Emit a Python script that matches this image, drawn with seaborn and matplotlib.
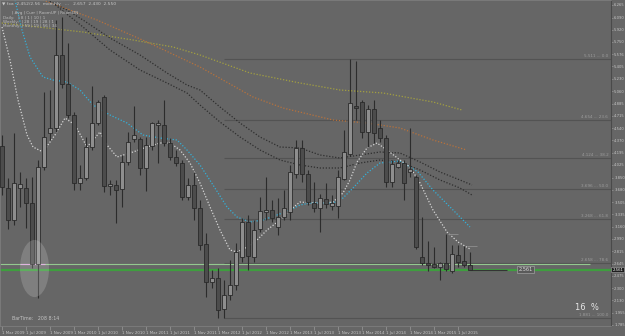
import matplotlib
matplotlib.use("Agg")
import matplotlib.pyplot as plt
import matplotlib.transforms as mtransforms
from matplotlib.patches import Ellipse
import seaborn as sns
import numpy as np
import pandas as pd

# ---------------- data (monthly candles, Mar 2009 .. Sep 2015) ----------------
open_ = [4.291, 3.703, 3.255, 3.703, 3.703, 3.493, 2.639, 3.997, 4.473, 4.543,
         5.565, 5.159, 4.725, 3.773, 3.843, 4.277, 4.613, 4.977, 3.731, 3.745,
         3.689, 4.067, 4.389, 4.389, 3.983, 4.291, 4.585, 4.585, 4.333, 4.137,
         4.053, 3.577, 3.745, 3.423, 2.919, 2.387, 2.443, 2.009, 2.205, 2.345,
         2.737, 3.227, 2.737, 3.129, 3.367, 3.395, 3.157, 3.297, 3.367, 3.899,
         4.263, 3.899, 3.493, 3.423, 3.549, 3.451, 3.451, 3.829, 4.179, 4.837,
         4.907, 4.487, 4.809, 4.543, 4.403, 3.787, 3.997, 4.053, 3.927, 3.857,
         2.737, 2.653, 2.639, 2.597, 2.653, 2.541, 2.765, 2.681, 2.625]
close = [3.717, 3.255, 3.773, 3.759, 3.493, 2.639, 3.997, 4.417, 4.543, 5.565,
         5.159, 4.725, 3.773, 3.843, 4.277, 4.613, 4.907, 3.731, 3.745, 3.675,
         4.067, 4.347, 4.445, 3.983, 4.305, 4.613, 4.613, 4.333, 4.137, 4.053,
         3.577, 3.745, 3.423, 2.905, 2.387, 2.443, 1.995, 2.205, 2.345, 2.807,
         3.227, 2.751, 3.115, 3.381, 3.395, 3.283, 3.297, 3.423, 3.927, 4.263,
         3.899, 3.507, 3.423, 3.563, 3.479, 3.493, 3.857, 4.207, 4.893, 4.823,
         4.487, 4.809, 4.473, 4.403, 3.787, 4.039, 4.053, 3.773, 3.969, 2.877,
         2.653, 2.625, 2.597, 2.653, 2.569, 2.779, 2.667, 2.625, 2.561]
high = [4.445, 3.843, 4.473, 3.927, 3.843, 3.857, 4.100, 5.047, 5.075, 6.055,
        6.097, 5.733, 4.767, 4.025, 4.417, 5.131, 4.935, 5.005, 3.815, 3.815,
        4.165, 4.487, 4.851, 4.417, 4.417, 4.627, 4.655, 4.935, 4.403, 4.235,
        4.095, 3.843, 3.927, 3.535, 3.073, 2.555, 2.583, 2.415, 2.695, 2.933,
        3.283, 3.325, 3.255, 3.577, 3.857, 3.535, 3.563, 3.675, 4.025, 4.375,
        4.375, 3.955, 3.787, 3.619, 3.773, 3.605, 3.955, 4.515, 5.509, 5.481,
        4.935, 4.865, 4.935, 4.655, 4.445, 4.095, 4.095, 4.095, 4.543, 3.885,
        3.297, 2.961, 2.877, 2.667, 3.059, 2.905, 2.905, 2.891, 2.807]
low = [3.605, 3.129, 3.185, 3.437, 3.143, 2.583, 2.163, 3.955, 4.375, 4.487,
       5.103, 4.683, 3.675, 3.675, 3.815, 4.235, 4.585, 3.647, 3.605, 3.213,
       3.437, 4.025, 4.347, 3.885, 3.661, 4.235, 4.053, 4.291, 4.095, 4.011,
       3.535, 3.535, 3.255, 2.835, 2.177, 2.303, 1.883, 1.883, 2.135, 2.275,
       2.667, 2.555, 2.667, 3.087, 3.255, 3.227, 3.045, 3.255, 3.255, 3.843,
       3.787, 3.465, 3.367, 3.087, 3.423, 3.395, 3.283, 3.815, 4.151, 4.655,
       4.403, 4.277, 4.333, 4.347, 3.717, 3.717, 3.983, 3.535, 3.857, 2.849,
       2.625, 2.541, 2.583, 2.415, 2.541, 2.513, 2.597, 2.597, 2.555]

date_pos = [0, 4, 8, 12, 16, 20, 24, 28, 32, 36, 40, 44, 48, 52, 56, 60, 64, 68, 72, 76]
date_labels = ["1 Mar 2009", "1 Jul 2009", "1 Nov 2009", "1 Mar 2010", "1 Jul 2010",
               "1 Nov 2010", "1 Mar 2011", "1 Jul 2011", "1 Nov 2011", "1 Mar 2012",
               "1 Jul 2012", "1 Nov 2012", "1 Mar 2013", "1 Jul 2013", "1 Nov 2013",
               "1 Mar 2014", "1 Jul 2014", "1 Nov 2014", "1 Mar 2015", "1 Jul 2015"]

price_ticks = ["6.265", "6.090", "5.920", "5.750", "5.576", "5.405", "5.230", "5.060",
               "4.885", "4.715", "4.540", "4.370", "4.195", "4.025", "3.850", "3.680",
               "3.505", "3.335", "3.160", "2.990", "2.815", "2.645", "2.475", "2.300",
               "2.130", "1.955", "1.785"]

# indicator lines (bar index, price)
ma_white_x = [0.05, 1.38, 2.72, 4.22, 5.22, 6.88, 8.88, 10.55, 12.22, 14.22, 16.38, 17.55,
              19.22, 21.88, 24.22, 26.38, 28.05, 29.72, 31.38, 33.05, 34.72, 36.38, 38.05,
              39.22, 40.88, 42.55, 44.22, 46.38, 48.05, 49.72, 51.88, 53.55, 55.22, 56.88,
              58.05, 59.22, 60.88, 62.55, 64.22, 66.38, 68.05, 69.72, 71.88, 74.22, 76.05, 78.05]
ma_white_y = [5.957, 5.495, 4.935, 4.445, 4.277, 4.207, 4.445, 4.683, 4.585, 4.277, 4.487, 4.305,
              4.137, 4.207, 4.277, 4.333, 4.333, 4.235, 4.053, 3.773, 3.437, 3.115, 2.835,
              2.807, 2.877, 2.975, 3.115, 3.255, 3.395, 3.507, 3.493, 3.493, 3.507, 3.633,
              3.815, 4.067, 4.263, 4.333, 4.235, 4.095, 3.997, 3.773, 3.395, 3.087, 2.947, 2.849]
ma_cyan_x = [2.22, 3.38, 4.72, 6.88, 8.55, 10.88, 13.05, 15.22, 18.05, 20.88, 23.55, 26.38,
             29.22, 30.88, 33.05, 35.22, 37.55, 39.22, 41.38, 43.55, 45.88, 48.05, 49.72,
             51.38, 55.22, 56.88, 58.55, 60.88, 63.05, 66.38, 67.55, 69.38, 71.88, 74.72, 78.05]
ma_cyan_y = [6.335, 5.915, 5.537, 5.257, 5.215, 5.187, 5.075, 4.865, 4.725, 4.613, 4.445, 4.403,
             4.375, 4.235, 4.025, 3.745, 3.437, 3.297, 3.227, 3.255, 3.325, 3.395, 3.465,
             3.493, 3.493, 3.563, 3.703, 3.913, 4.053, 4.081, 4.025, 3.927, 3.675, 3.437, 3.157]
band_up_x = [7.55, 10.88, 13.55, 18.05, 23.05, 27.55, 30.88, 33.05, 36.38, 39.72, 43.05, 46.38,
             49.72, 53.05, 56.38, 59.72, 63.05, 66.38, 69.72, 73.05, 76.38, 78.38]
band_up_y = [6.335, 6.195, 6.055, 5.803, 5.565, 5.313, 5.145, 5.075, 4.837, 4.613, 4.417, 4.277,
             4.263, 4.165, 4.123, 4.165, 4.207, 4.193, 4.067, 3.927, 3.815, 3.745]
band_dn_x = [8.55, 13.55, 18.05, 23.05, 27.55, 30.88, 33.05, 36.38, 39.72, 43.05, 46.38, 49.72,
             53.05, 56.38, 59.72, 63.05, 66.38, 69.72, 73.05, 76.38, 78.38]
band_dn_y = [6.293, 5.957, 5.635, 5.355, 5.173, 5.033, 4.865, 4.627, 4.417, 4.235, 4.095, 4.025,
             3.983, 3.983, 4.053, 4.095, 4.067, 3.955, 3.815, 3.703, 3.605]
ma_orange_x = [6.88, 15.88, 24.22, 33.05, 41.88, 46.88, 55.22, 60.88, 66.38, 71.88, 77.5]
ma_orange_y = [6.335, 6.055, 5.747, 5.397, 4.977, 4.823, 4.655, 4.613, 4.543, 4.375, 4.235]
ma_olive_x = [0.0, 13.55, 21.88, 28.55, 33.05, 41.38, 49.72, 56.38, 63.55, 71.88, 76.72]
ma_olive_y = [6.013, 5.887, 5.775, 5.677, 5.565, 5.313, 5.173, 5.075, 5.033, 4.907, 4.795]

fib_prices = [5.511, 4.654, 4.124, 3.696, 3.268, 2.658, 1.881]
fib_labels = ["5.511 ... 0.0", "4.654 ... 23.6", "4.124 ... 38.2", "3.696 ... 50.0",
              "3.268 ... 61.8", "2.658 ... 78.6", "1.881 ... 100.0"]
fib_start = 37
support_light = 2.645
support_main = 2.550
last_price = 2.561

# ---------------- style ----------------
BG = "#666666"
sns.set_theme(style="dark", rc={"axes.facecolor": BG, "figure.facecolor": BG,
                                "savefig.facecolor": BG})
plt.rcParams["font.family"] = ["DejaVu Sans"]

fig = plt.figure(figsize=(6.25, 3.36), dpi=100)
ax = fig.add_axes([0.0, 10 / 336, 611 / 625, 326 / 336])
ax.set_facecolor(BG)
ax.set_xlim(-0.283, 101.55)
ax.set_ylim(1.771, 6.335)
ax.grid(False)

idx = np.arange(len(open_))
o = np.array(open_); c = np.array(close)
h = np.array(high); l = np.array(low)

# horizontal levels
for p, lab in zip(fib_prices, fib_labels):
    ax.hlines(p, fib_start, 101.55, color="#535353", lw=0.8, zorder=1)
    ax.text(101.1, p + 0.012, lab, ha="right", va="bottom", fontsize=3.0,
            color="#9c9c9c", zorder=6)
ax.hlines(support_light, -0.283, 98.0, color="#93c98f", lw=0.8, zorder=2)
ax.hlines(support_light, 3.0, 7.2, color="#d9a6d9", lw=0.8, zorder=2)
ax.hlines(support_main, -0.283, 101.55, color="#3e9e3e", lw=1.6, zorder=2)

# indicator lines
line_kw = dict(ax=ax, sort=False, estimator=None, legend=False, lw=0.9, linestyle=(0, (1, 1.4)))
sns.lineplot(x=ma_olive_x, y=ma_olive_y, color="#a3a040", **line_kw)
sns.lineplot(x=ma_orange_x, y=ma_orange_y, color="#b8723c", **line_kw)
sns.lineplot(x=band_up_x, y=band_up_y, color="#2e2e2e", **line_kw)
sns.lineplot(x=band_dn_x, y=band_dn_y, color="#2e2e2e", **line_kw)
sns.lineplot(x=ma_cyan_x, y=ma_cyan_y, color="#33b0d8", **line_kw)
sns.lineplot(x=ma_white_x, y=ma_white_y, color="#d6d6d6", **line_kw)

# candles
ax.vlines(idx, l, h, color="#2c2c2c", lw=0.8, zorder=4)
bull = c >= o
body_lo = np.minimum(o, c)
body_h = np.maximum(np.abs(c - o), 0.025)
ax.bar(idx[bull], body_h[bull], bottom=body_lo[bull], width=0.62,
       color="#8e8e8e", edgecolor="#2a2a2a", linewidth=0.6, zorder=5)
ax.bar(idx[~bull], body_h[~bull], bottom=body_lo[~bull], width=0.62,
       color="#4c4c4c", edgecolor="#2a2a2a", linewidth=0.6, zorder=5)

# small high markers at the end
ax.hlines(high[74], 74.4, 76.05, color="#8a8a8a", lw=0.7, zorder=3)
ax.hlines(high[77], 77.55, 79.2, color="#8a8a8a", lw=0.7, zorder=3)

# highlight ellipse
ax.add_patch(Ellipse((5.47, 2.576), 4.83, 0.80, facecolor="white", alpha=0.17,
                     edgecolor="none", zorder=6))

# current price line + box
ax.hlines(last_price, 78, 84.2, color="#343434", lw=0.8, zorder=3)
ax.text(87.3, last_price, f"{last_price:.3f}", ha="center", va="center", fontsize=3.6,
        color="#dcdcdc", zorder=7,
        bbox=dict(boxstyle="square,pad=0.25", facecolor="#5a5a5a", edgecolor="#a0a0a0", lw=0.5))

# axes
ax.yaxis.tick_right()
ax.set_yticks([float(t) for t in price_ticks])
ax.set_yticklabels(price_ticks)
ax.tick_params(axis="y", which="both", right=True, length=1.5, width=0.5, color="#9a9a9a",
               labelsize=2.7, labelcolor="#c6c6c6", pad=0.8)
ax.set_xticks(date_pos)
ax.set_xticklabels(date_labels)
ax.tick_params(axis="x", which="both", bottom=True, length=3, width=0.5, color="#9a9a9a",
               labelsize=2.9, labelcolor="#c6c6c6", pad=0.3)
for t in ax.get_xticklabels():
    t.set_ha("left")
for side in ["left", "top", "bottom"]:
    ax.spines[side].set_color("#7d7d7d")
    ax.spines[side].set_linewidth(0.6)
ax.spines["right"].set_color("#4a4a4a")
ax.spines["right"].set_linewidth(0.8)
ax.set_xlabel(""); ax.set_ylabel("")

trans = mtransforms.blended_transform_factory(ax.transAxes, ax.transData)
ax.text(1.002, last_price, f"{last_price:.3f}", transform=trans, ha="left", va="center",
        fontsize=2.8, color="white", zorder=8, clip_on=False,
        bbox=dict(boxstyle="square,pad=0.2", facecolor="#1e1e1e", edgecolor="#aaaaaa", lw=0.4))

# overlay texts (pixel positions)
def ftext(px, py, s, **kw):
    fig.text(px / 625, 1 - py / 336, s, **kw)

ftext(2, 4, "\u25bc fxa  2.452/2.56  monthly   ...   2.657  2.430  2.550", fontsize=3.2,
      color="#c8c8c8", va="center")
ftext(12, 13, "| Avg | Curr | RoomUP | RoomDN", fontsize=3.0, color="#bdbdbd", va="center")
ftext(3, 17.5, "Daily:   | 8 | 1 | 10 | 1", fontsize=3.0, color="#bdbdbd", va="center")
ftext(3, 22, "Weekly:  | 28 | 19 | 28 | 1", fontsize=3.0, color="#bdbdbd", va="center")
ftext(3, 26.5, "Monthly: | 59 | 19 | 56 | 34", fontsize=3.0, color="#bdbdbd", va="center")
ftext(12, 318, "BarTime:   208 8:14", fontsize=3.4, color="#c4c4c4", va="center")
ftext(575, 307, "16  %", fontsize=6.0, color="#e6e6e6", va="center")

fig.savefig("out.png", dpi=100, facecolor=BG)
